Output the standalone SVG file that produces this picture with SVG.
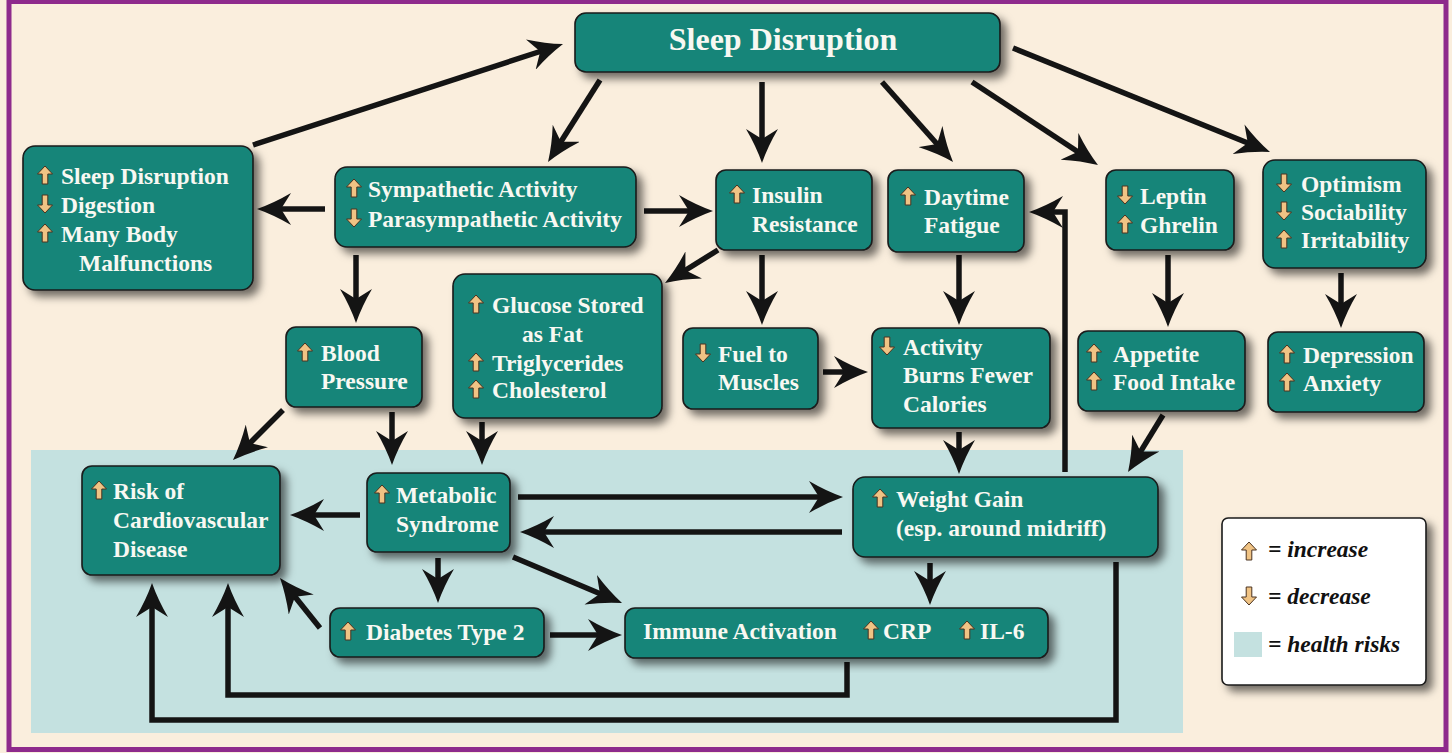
<svg xmlns="http://www.w3.org/2000/svg" xmlns:xlink="http://www.w3.org/1999/xlink" width="1452" height="753" viewBox="0 0 1452 753">
<style>
.box{fill:#198579;stroke:#1a1a1a;stroke-width:1.6;filter:url(#sh)}
.t{font-family:"Liberation Serif","Times New Roman",serif;font-weight:bold;font-size:23.5px;fill:#F8F8F2}
.lg{font-family:"Liberation Serif","Times New Roman",serif;font-weight:bold;font-style:italic;font-size:23.5px;fill:#111}
.c{fill:none;stroke:#141414;stroke-width:5.5;stroke-linejoin:miter}
.c line,.c polyline{marker-end:url(#ah)}
</style>
<defs>
<filter id="sh" x="-10%" y="-10%" width="130%" height="140%">
<feDropShadow dx="6" dy="6" stdDeviation="4" flood-color="#000" flood-opacity="0.55"/>
</filter>
<marker id="ah" viewBox="0 0 34 32" markerWidth="34" markerHeight="32" markerUnits="userSpaceOnUse" refX="18" refY="16" orient="auto">
<path d="M34,16 Q17,10 0,0 L10,16 L0,32 Q17,22 34,16 Z" fill="#141414"/>
</marker>
<path id="up" d="M7,0 L14.5,8 L9.8,8 L9.8,18 L4.2,18 L4.2,8 L-0.5,8 Z" fill="#F0C384" stroke="#4a3320" stroke-width="1"/>
<path id="dn" d="M7,18 L14.5,10 L9.8,10 L9.8,0 L4.2,0 L4.2,10 L-0.5,10 Z" fill="#F0C384" stroke="#4a3320" stroke-width="1"/>
</defs>

<rect x="0" y="0" width="1452" height="753" fill="#FAEEDD"/>
<rect x="31" y="450" width="1152" height="283" fill="#C4E1E0"/>
<rect x="9" y="1.5" width="1437" height="748" fill="none" stroke="#8E2A8C" stroke-width="5"/>

<g id="connectors" class="c">
<line x1="253" y1="145" x2="547.8" y2="49"/>
<line x1="600" y1="80" x2="556.6" y2="148.5"/>
<line x1="762" y1="82" x2="762" y2="147"/>
<line x1="882" y1="82" x2="942.4" y2="150"/>
<line x1="972" y1="82" x2="1084.6" y2="156.2"/>
<line x1="1013" y1="48" x2="1255.2" y2="146"/>
<line x1="325" y1="209" x2="273" y2="209"/>
<line x1="644" y1="211" x2="697" y2="211"/>
<line x1="356" y1="255" x2="356" y2="307"/>
<line x1="718" y1="250" x2="678.6" y2="274.5"/>
<line x1="762" y1="255" x2="762" y2="309"/>
<line x1="959" y1="255" x2="959" y2="309"/>
<line x1="823" y1="372" x2="852" y2="372"/>
<line x1="1168" y1="255" x2="1168" y2="311"/>
<line x1="1341" y1="273" x2="1341" y2="312"/>
<polyline points="1065,472 1065,212 1045,212"/>
<line x1="1163" y1="415" x2="1136.4" y2="458.4"/>
<line x1="959" y1="432" x2="959" y2="458"/>
<line x1="283" y1="410" x2="244.3" y2="448.7"/>
<line x1="392" y1="412" x2="392" y2="449"/>
<line x1="482" y1="422" x2="482" y2="449"/>
<line x1="360" y1="515" x2="306" y2="515"/>
<line x1="518" y1="497" x2="827" y2="497"/>
<line x1="842" y1="532" x2="536" y2="532"/>
<line x1="438" y1="558" x2="438" y2="587"/>
<line x1="513" y1="557" x2="607.3" y2="596.8"/>
<line x1="550" y1="635" x2="606" y2="635"/>
<line x1="320" y1="628" x2="290" y2="590.5"/>
<line x1="930" y1="563" x2="930" y2="589"/>
<polyline points="847,662 847,695 228,695 228,599"/>
<polyline points="1116,562 1116,720 152,720 152,599"/>
</g>

<g id="n-sleep">
<rect class="box" x="575" y="13" width="425" height="59" rx="11"/>
<text class="t" x="783" y="50" text-anchor="middle" style="font-size:32px">Sleep Disruption</text>
</g>

<g id="n-left">
<rect class="box" x="23" y="146" width="230" height="144" rx="12"/>
<use href="#up" x="38" y="166"/><text class="t" x="61" y="184">Sleep Disruption</text>
<use href="#dn" x="38" y="195"/><text class="t" x="61" y="213">Digestion</text>
<use href="#up" x="38" y="224"/><text class="t" x="61" y="242">Many Body</text>
<text class="t" x="79" y="271">Malfunctions</text>
</g>

<g id="n-symp">
<rect class="box" x="335" y="167" width="301" height="80" rx="12"/>
<use href="#up" x="347" y="179"/><text class="t" x="368" y="197">Sympathetic Activity</text>
<use href="#dn" x="347" y="209"/><text class="t" x="368" y="227">Parasympathetic Activity</text>
</g>

<g id="n-insulin">
<rect class="box" x="716" y="170" width="156" height="80" rx="10"/>
<use href="#up" x="730" y="185"/><text class="t" x="752" y="203">Insulin</text>
<text class="t" x="752" y="232">Resistance</text>
</g>

<g id="n-fatigue">
<rect class="box" x="888" y="170" width="136" height="82" rx="10"/>
<use href="#up" x="901" y="187"/><text class="t" x="924" y="205">Daytime</text>
<text class="t" x="924" y="233">Fatigue</text>
</g>

<g id="n-leptin">
<rect class="box" x="1106" y="170" width="128" height="80" rx="10"/>
<use href="#dn" x="1118" y="186"/><text class="t" x="1140" y="204">Leptin</text>
<use href="#up" x="1118" y="215"/><text class="t" x="1140" y="233">Ghrelin</text>
</g>

<g id="n-optimism">
<rect class="box" x="1263" y="160" width="163" height="108" rx="12"/>
<use href="#dn" x="1277" y="174"/><text class="t" x="1301" y="192">Optimism</text>
<use href="#dn" x="1277" y="202"/><text class="t" x="1301" y="220">Sociability</text>
<use href="#up" x="1277" y="230"/><text class="t" x="1301" y="248">Irritability</text>
</g>

<g id="n-bp">
<rect class="box" x="286" y="327" width="136" height="80" rx="10"/>
<use href="#up" x="298" y="343"/><text class="t" x="321" y="361">Blood</text>
<text class="t" x="321" y="389">Pressure</text>
</g>

<g id="n-glucose">
<rect class="box" x="453" y="274" width="209" height="144" rx="12"/>
<use href="#up" x="469" y="295"/><text class="t" x="492" y="313">Glucose Stored</text>
<text class="t" x="522" y="342">as Fat</text>
<use href="#up" x="469" y="353"/><text class="t" x="492" y="371">Triglycerides</text>
<use href="#up" x="469" y="380"/><text class="t" x="492" y="398">Cholesterol</text>
</g>

<g id="n-fuel">
<rect class="box" x="683" y="328" width="135" height="81" rx="10"/>
<use href="#dn" x="696" y="344"/><text class="t" x="718" y="362">Fuel to</text>
<text class="t" x="718" y="390">Muscles</text>
</g>

<g id="n-activity">
<rect class="box" x="872" y="328" width="178" height="100" rx="10"/>
<use href="#dn" x="880" y="337"/><text class="t" x="903" y="355">Activity</text>
<text class="t" x="903" y="383">Burns Fewer</text>
<text class="t" x="903" y="412">Calories</text>
</g>

<g id="n-appetite">
<rect class="box" x="1078" y="331" width="167" height="80" rx="10"/>
<use href="#up" x="1087" y="344"/><text class="t" x="1113" y="362">Appetite</text>
<use href="#up" x="1087" y="372"/><text class="t" x="1113" y="390">Food Intake</text>
</g>

<g id="n-depression">
<rect class="box" x="1268" y="332" width="156" height="80" rx="10"/>
<use href="#up" x="1280" y="345"/><text class="t" x="1303" y="363">Depression</text>
<use href="#up" x="1280" y="373"/><text class="t" x="1303" y="391">Anxiety</text>
</g>

<g id="n-risk">
<rect class="box" x="82" y="466" width="198" height="109" rx="10"/>
<use href="#up" x="92" y="481"/><text class="t" x="113" y="499">Risk of</text>
<text class="t" x="113" y="528">Cardiovascular</text>
<text class="t" x="113" y="557">Disease</text>
</g>

<g id="n-metabolic">
<rect class="box" x="367" y="473" width="143" height="79" rx="10"/>
<use href="#up" x="375" y="485"/><text class="t" x="396" y="503">Metabolic</text>
<text class="t" x="396" y="532">Syndrome</text>
</g>

<g id="n-weight">
<rect class="box" x="853" y="477" width="305" height="80" rx="12"/>
<use href="#up" x="873" y="489"/><text class="t" x="896" y="507">Weight Gain</text>
<text class="t" x="896" y="536">(esp. around midriff)</text>
</g>

<g id="n-diabetes">
<rect class="box" x="330" y="608" width="214" height="49" rx="10"/>
<use href="#up" x="341" y="622"/><text class="t" x="366" y="640">Diabetes Type 2</text>
</g>

<g id="n-immune">
<rect class="box" x="625" y="608" width="423" height="50" rx="10"/>
<text class="t" x="643" y="639">Immune Activation</text>
<use href="#up" x="864" y="621"/><text class="t" x="883" y="639">CRP</text>
<use href="#up" x="960" y="621"/><text class="t" x="980" y="639">IL-6</text>
</g>

<g id="legend">
<rect x="1222" y="518" width="204" height="167" rx="6" fill="#FFFFFF" stroke="#1a1a1a" stroke-width="1.6" filter="url(#sh)"/>
<use href="#up" x="1242" y="542"/>
<text class="lg" x="1268" y="557">= increase</text>
<use href="#dn" x="1242" y="587"/>
<text class="lg" x="1268" y="604">= decrease</text>
<rect x="1234" y="632" width="28" height="25" fill="#C4E1E0"/>
<text class="lg" x="1268" y="652">= health risks</text>
</g>
</svg>
